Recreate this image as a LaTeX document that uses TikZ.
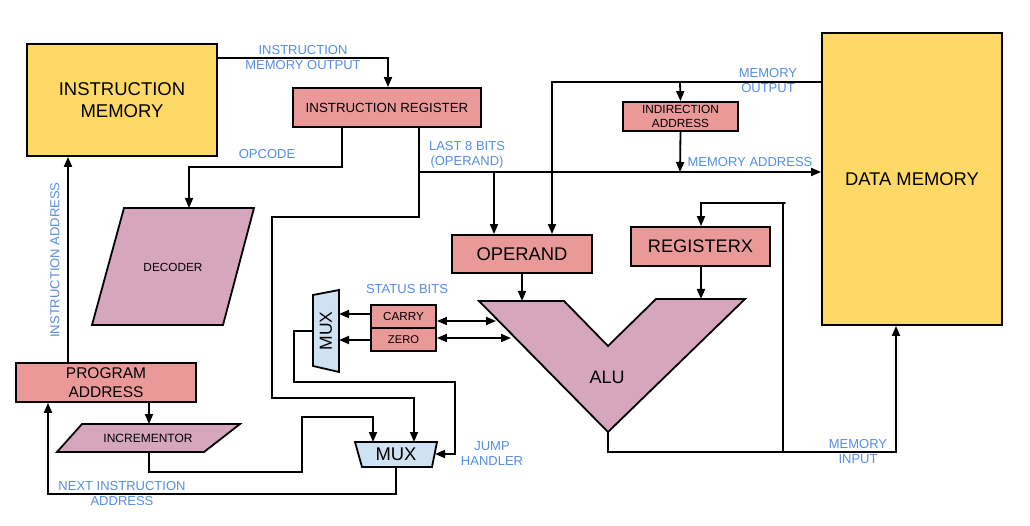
\documentclass[tikz,border=0pt]{standalone}
\usepackage{fontspec}
\setmainfont{Liberation Sans}
\usetikzlibrary{arrows.meta}
\definecolor{memyel}{HTML}{FFD966}
\definecolor{regred}{HTML}{EA9999}
\definecolor{alupink}{HTML}{D5A6BD}
\definecolor{muxblue}{HTML}{CFE2F3}
\definecolor{lblblue}{RGB}{85,142,226}
\tikzset{
  wire/.style={line width=1.8pt, line cap=round, line join=miter},
  arr/.style={wire, -{Triangle[length=10pt,width=8pt]}},
  darr/.style={wire, {Triangle[length=10pt,width=8pt]}-{Triangle[length=10pt,width=8pt]}},
  box/.style={draw, line width=1.8pt, inner sep=0pt, align=center},
  mem/.style={box, fill=memyel},
  reg/.style={box, fill=regred},
  shp/.style={draw, line width=1.8pt, line join=miter},
  lbl/.style={text=lblblue, font=\fontsize{13}{15}\selectfont, align=center, inner sep=0pt},
  txt/.style={inner sep=0pt, align=center}
}
\begin{document}
\begin{tikzpicture}[x=1pt,y=-1pt]
\useasboundingbox[fill=white] (0,0) rectangle (1030,526);

% boxes
\node[mem, minimum width=190pt, minimum height=112pt, font=\fontsize{18.5}{22}\selectfont] (im) at (122,100) {INSTRUCTION\\MEMORY};
\node[reg, minimum width=188pt, minimum height=39pt, font=\fontsize{13.3}{15}\selectfont] (ir) at (387,107.5) {INSTRUCTION REGISTER};
\node[reg, minimum width=115pt, minimum height=29pt, font=\fontsize{11.8}{13.5}\selectfont] (ind) at (680.5,116.5) {INDIRECTION\\ADDRESS};
\node[mem, minimum width=180pt, minimum height=292pt, font=\fontsize{18.4}{22}\selectfont] (dm) at (912,179) {DATA MEMORY};
\node[reg, minimum width=140pt, minimum height=38pt, font=\fontsize{18.4}{22}\selectfont] (opd) at (522,254) {OPERAND};
\node[reg, minimum width=139pt, minimum height=39pt, font=\fontsize{18.2}{22}\selectfont] (rx) at (700.5,246.5) {REGISTERX};
\node[reg, minimum width=65pt, minimum height=23pt, font=\fontsize{11.7}{14}\selectfont] (carry) at (403.5,316.5) {CARRY};
\node[reg, minimum width=65pt, minimum height=23pt, font=\fontsize{11.2}{14}\selectfont] (zero) at (403.5,339.5) {ZERO};
\node[reg, minimum width=180pt, minimum height=39pt, font=\fontsize{15.5}{19}\selectfont] (pa) at (106,382.5) {PROGRAM\\ADDRESS};

% decoder
\path[shp, fill=alupink] (124,208) -- (254,208) -- (223,325) -- (92,325) -- cycle;
\node[txt, font=\fontsize{11.8}{14}\selectfont] (dec) at (173,267) {DECODER};
\coordinate (dectop) at (189,208);
% incrementor
\path[shp, fill=alupink] (82,424) -- (240,424) -- (204,452) -- (57,452) -- cycle;
\node[txt, font=\fontsize{12}{14}\selectfont] (inc) at (148,438) {INCREMENTOR};
\coordinate (inctop) at (149,424);
\coordinate (incbot) at (149,452);
% ALU
\path[shp, fill=alupink] (479,301) -- (564,301) -- (608,346) -- (656,299) -- (745,299) -- (608,432) -- cycle;
\node[txt, font=\fontsize{18}{22}\selectfont] (alu) at (607,377) {ALU};
\coordinate (aluinA) at (522,301);
\coordinate (aluinB) at (701,299);
\coordinate (aluC) at (496,321);
\coordinate (aluZ) at (511,338);
\coordinate (aluout) at (608,432);
% small mux
\path[shp, fill=muxblue] (313,295) -- (339,290) -- (339,372) -- (313,366) -- cycle;
\node[txt, rotate=90, font=\fontsize{17.5}{20}\selectfont] (muxa) at (326,331) {MUX};
\coordinate (muxaC) at (339,314);
\coordinate (muxaZ) at (339,340);
\coordinate (muxaout) at (313,331);
% big mux
\path[shp, fill=muxblue] (355,442) -- (437,442) -- (432,467) -- (362,467) -- cycle;
\node[txt, font=\fontsize{18.4}{22}\selectfont] (muxb) at (396,454.5) {MUX};
\coordinate (muxbA) at (373,442);
\coordinate (muxbB) at (414,442);
\coordinate (muxbR) at (435,454);
\coordinate (muxbout) at (396,467);

% connectors
\draw[arr] (im.east |- 0,58) -- (388,58) -- (388,0 |- ir.north);
\draw[arr] (342,0 |- ir.south) -- (342,167) -- (189,167) -- (dectop);
\draw[arr] (419,0 |- ir.south) -- (419,217) -- (272,217) -- (272,398) -- (414,398) -- (muxbB);
\draw[arr] (419,172) -- (dm.west |- 0,172);
\draw[arr] (494,172) -- (494,0 |- opd.north);
\draw[arr] (dm.west |- 0,82) -- (552,82) -- (552,0 |- opd.north);
\draw[arr] (680,82) -- (ind.north);
\draw[arr] (ind.south) -- (680,172);
\draw[arr] (opd.south) -- (aluinA);
\draw[arr] (701,0 |- rx.south) -- (aluinB);
\draw[wire] (783,452) -- (783,203);
\draw[arr] (785,203) -- (701,203) -- (701,0 |- rx.north);
\draw[arr] (aluout) -- (608,452) -- (896,452) -- (896,0 |- dm.south);
\draw[darr] (carry.east |- aluC) -- (aluC);
\draw[darr] (zero.east |- aluZ) -- (aluZ);
\draw[arr] (carry.west |- muxaC) -- (muxaC);
\draw[arr] (zero.west |- muxaZ) -- (muxaZ);
\draw[arr] (muxaout) -- (294,331) -- (294,382) -- (455,382) -- (455,454) -- (muxbR);
\draw[arr] (incbot) -- (149,472) -- (302,472) -- (302,417) -- (373,417) -- (muxbA);
\draw[arr] (muxbout) -- (396,494) -- (48,494) -- (48,0 |- pa.south);
\draw[arr] (68,0 |- pa.north) -- (68,0 |- im.south);
\draw[arr] (149,0 |- pa.south) -- (inctop);

% labels
\node[lbl] (l1) at (303,57.5) {INSTRUCTION\\MEMORY OUTPUT};
\node[lbl] (l2) at (267,154) {OPCODE};
\node[lbl] (l3) at (467,154.5) {LAST 8 BITS\\(OPERAND)};
\node[lbl] (l4) at (768,81) {MEMORY\\OUTPUT};
\node[lbl] (l5) at (750,162) {MEMORY ADDRESS};
\node[lbl] (l6) at (407,289) {STATUS BITS};
\node[lbl] (l7) at (492,453.5) {JUMP\\HANDLER};
\node[lbl] (l8) at (858,452) {MEMORY\\INPUT};
\node[lbl] (l9) at (122,493.5) {NEXT INSTRUCTION\\ADDRESS};
\node[lbl, rotate=90] (l10) at (55,260) {INSTRUCTION ADDRESS};
\end{tikzpicture}
\end{document}
